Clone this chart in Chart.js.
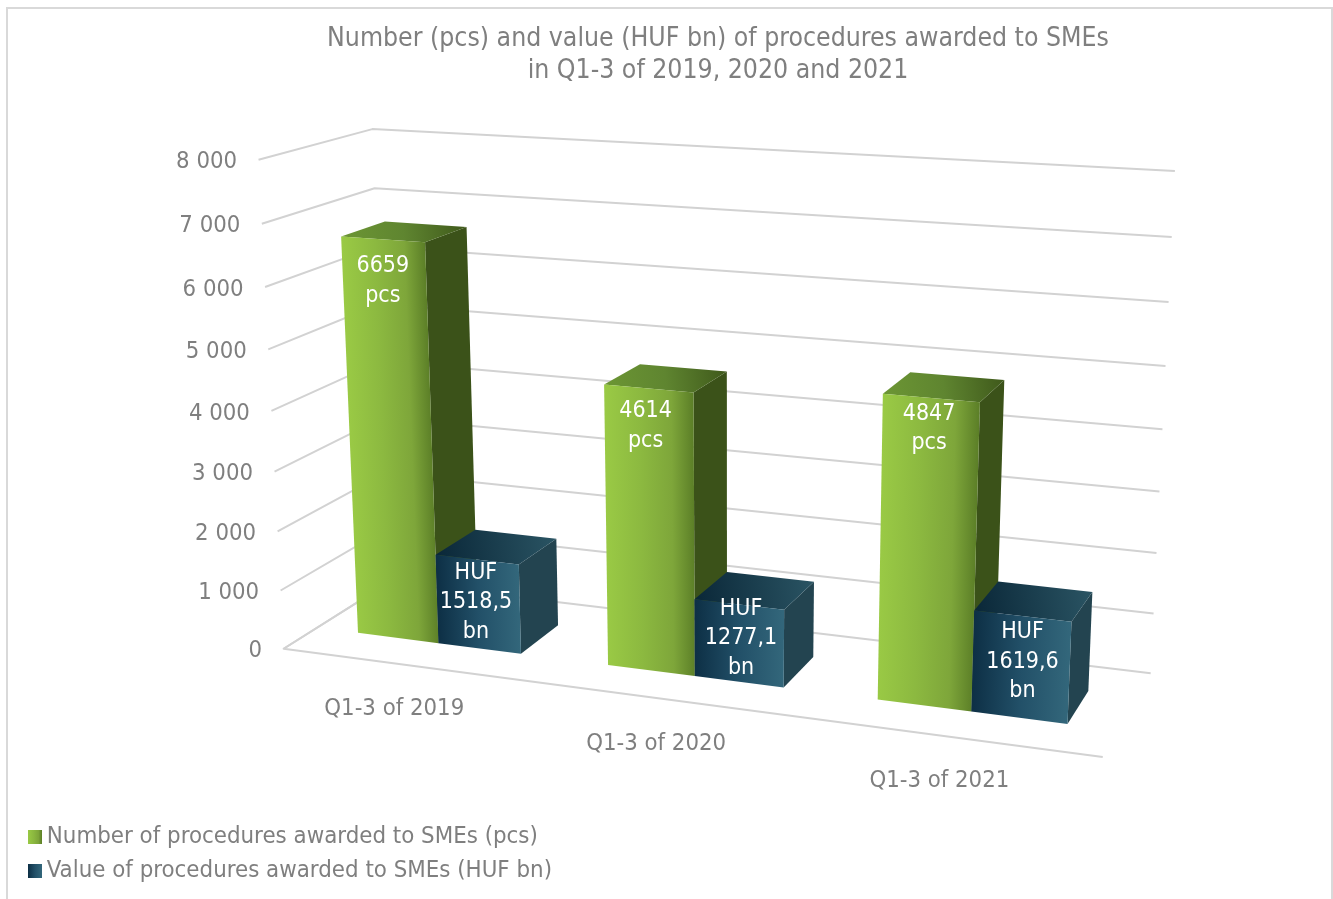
<!DOCTYPE html>
<html><head><meta charset="utf-8"><style>html,body{margin:0;padding:0;background:#fff}canvas{display:block}</style>
<script src="https://cdn.jsdelivr.net/npm/chart.js@4"></script></head><body>
<canvas id="c" width="1333" height="899"></canvas>
<script>
// ---- data ----
const categories = ['Q1-3 of 2019', 'Q1-3 of 2020', 'Q1-3 of 2021'];
const procedureCounts = [6659, 4614, 4847];
const procedureValues = [1518.5, 1277.1, 1619.6];
const seriesNames = ['Number of procedures awarded to SMEs (pcs)', 'Value of procedures awarded to SMEs (HUF bn)'];
const titleLines = ['Number (pcs) and value (HUF bn) of procedures awarded to SMEs', 'in Q1-3 of 2019, 2020 and 2021'];

// ---- styling / camera ----
const FONT = "'DejaVu Sans Condensed','DejaVu Sans',sans-serif";
const GREY = '#7f7f7f', GRID = '#d2d2d2';
const CAMERA = [696.7773,-38.77115,138.8400,283.6068, 24.32473,-497.5526,-18.17562,648.7689, -0.1109631,-0.05302294,0.08360879];
const DEPTH_FRONT = 0.3, DEPTH_BACK = 0.7;
const PALETTE = [
  {front:[[0,'#9aca45'],[.4,'#8cb940'],[.75,'#7ea63a'],[1,'#5b7e27']], top:[[0,'#6c9634'],[.5,'#5f8530'],[1,'#3f591b']], side:'#3b5219'},
  {front:[[0,'#0d2f45'],[.5,'#225068'],[1,'#33677b']], top:[[0,'#0a2738'],[1,'#2a5463']], side:'#234450'}
];
const LABEL_DX = [[0,-3,-2],[-1,2,0]];
const LABEL_DY = [[27,23,16],[13,4,16]];
const LINE_STEP = 29.5;

const P = (u,v,d) => { const c=CAMERA, q=c[8]*u+c[9]*v+c[10]*d+1;
  return {x:(c[0]*u+c[1]*v+c[2]*d+c[3])/q, y:(c[4]*u+c[5]*v+c[6]*d+c[7])/q}; };

function swatch(stops){ const s=document.createElement('canvas'); s.width=14; s.height=14; const x=s.getContext('2d');
  const g=x.createLinearGradient(0,0,14,0); stops.forEach(t=>g.addColorStop(t[0],t[1])); x.fillStyle=g; x.fillRect(0,0,14,14); return s; }
const swatches = PALETTE.map(p=>swatch(p.front));

function poly(ctx, pts, fill){ ctx.beginPath(); pts.forEach((p,i)=>i?ctx.lineTo(p.x,p.y):ctx.moveTo(p.x,p.y)); ctx.closePath(); ctx.fillStyle=fill; ctx.fill(); }
function grad(ctx,a,b,stops){ const g=ctx.createLinearGradient(a.x,a.y,b.x,b.y); stops.forEach(t=>g.addColorStop(t[0],t[1])); return g; }
function line(ctx, pts){ ctx.beginPath(); pts.forEach((p,i)=>i?ctx.lineTo(p.x,p.y):ctx.moveTo(p.x,p.y)); ctx.stroke(); }
// gradient whose colour bands run parallel to the slanted vertical edges of a face
function faceGrad(ctx,tl,tr,bl,br,stops){
  let ex=(tl.x-bl.x+tr.x-br.x)/2, ey=(tl.y-bl.y+tr.y-br.y)/2, n=Math.hypot(ex,ey); ex/=n; ey/=n;
  const nx=-ey, ny=ex, s=(nx*(tr.x-tl.x)+ny*(tr.y-tl.y))>0?1:-1;
  const pr=[tl,tr,bl,br].map(p=>s*(nx*p.x+ny*p.y)), lo=Math.min(...pr), hi=Math.max(...pr);
  const base=s*(nx*tl.x+ny*tl.y);
  const a={x:tl.x+s*nx*(lo-base),y:tl.y+s*ny*(lo-base)}, b={x:tl.x+s*nx*(hi-base),y:tl.y+s*ny*(hi-base)};
  return grad(ctx,a,b,stops);
}

const scene3d = {
  id:'scene3d',
  afterLayout(chart){ const t=chart.titleBlock; if(t){ t.left=103; t.right=1333; } },
  beforeDraw(chart){ const c=chart.ctx; c.save(); c.strokeStyle='#d9d9d9'; c.lineWidth=2; c.beginPath(); c.moveTo(7,899); c.lineTo(7,8); c.lineTo(1332,8); c.lineTo(1332,899); c.stroke(); c.restore(); },
  beforeDatasetsDraw(chart){
    const c=chart.ctx, y=chart.scales.y, a=chart.chartArea;
    c.save(); c.strokeStyle=GRID; c.lineWidth=2; c.lineJoin='round';
    c.font='23.7px '+FONT; c.fillStyle=GREY; c.textAlign='right'; c.textBaseline='middle';
    y.ticks.forEach(t=>{ const v=(a.bottom-y.getPixelForValue(t.value))/a.height;
      line(c,[P(0,v,0),P(0,v,1),P(1,v,1)]);
      const f=P(0,v,0); c.fillText(t.label,f.x-21.5,f.y+2.5);
    });
    line(c,[P(0,0,1),P(0,0,0),P(1,0,0)]);
    const x=chart.scales.x; c.textAlign='center';
    categories.forEach((n,i)=>{ const f=P((x.getPixelForValue(i)-a.left)/a.width,0,0); c.fillText(n,f.x-13,f.y+44); });
    c.restore();
  },
  beforeDatasetDraw(){ return false; },
  afterDatasetsDraw(chart){
    const c=chart.ctx, a=chart.chartArea; const m=[chart.getDatasetMeta(0),chart.getDatasetMeta(1)];
    c.save();
    categories.forEach((_,i)=>{ [0,1].forEach(ds=>{
      const el=m[ds].data[i], pal=PALETTE[ds];
      const u0=(el.x-el.width/2-a.left)/a.width, u1=(el.x+el.width/2-a.left)/a.width;
      const v1=(a.bottom-el.y)/a.height, v0=(a.bottom-el.base)/a.height;
      const F=DEPTH_FRONT,B=DEPTH_BACK;
      const ftl=P(u0,v1,F),ftr=P(u1,v1,F),fbl=P(u0,v0,F),fbr=P(u1,v0,F),btl=P(u0,v1,B),btr=P(u1,v1,B),bbr=P(u1,v0,B);
      poly(c,[ftr,btr,bbr,fbr],pal.side);
      poly(c,[ftl,btl,btr,ftr],grad(c,ftl,btr,pal.top));
      poly(c,[ftl,ftr,fbr,fbl],faceGrad(c,ftl,ftr,fbl,fbr,pal.front));
    });});
    categories.forEach((_,i)=>{ [0,1].forEach(ds=>{
      const el=m[ds].data[i];
      const u=(el.x-a.left)/a.width, v=(a.bottom-el.y)/a.height, t=P(u,v,DEPTH_FRONT);
      const val=chart.data.datasets[ds].data[i];
      const lines= ds===0 ? [String(val),'pcs'] : ['HUF',val.toFixed(1).replace('.',','),'bn'];
      c.font='23px '+FONT; c.fillStyle='#ffffff'; c.textAlign='center'; c.textBaseline='middle';
      lines.forEach((s,k)=>c.fillText(s,t.x+LABEL_DX[ds][i],t.y+LABEL_DY[ds][i]+k*LINE_STEP));
    });});
    c.restore();
  }
};

new Chart(document.getElementById('c'),{
  type:'bar',
  data:{labels:categories,datasets:[
    {label:seriesNames[0],data:procedureCounts,backgroundColor:'#8ebb41',categoryPercentage:.66,barPercentage:1},
    {label:seriesNames[1],data:procedureValues,backgroundColor:'#225068',categoryPercentage:.66,barPercentage:1}
  ]},
  options:{
    responsive:false,animation:false,
    layout:{padding:{left:24.7,top:0,right:0,bottom:6}},
    scales:{
      x:{display:false},
      y:{display:false,min:0,max:8000,ticks:{stepSize:1000,callback:v=>String(v).replace(/\B(?=(\d{3})+$)/g,' ')}}
    },
    plugins:{
      tooltip:{enabled:false},
      title:{display:true,text:titleLines,color:GREY,font:{family:FONT,size:26.4,weight:'normal',lineHeight:32/26.4},padding:{top:23,bottom:0}},
      legend:{position:'left',align:'end',labels:{color:GREY,font:{family:FONT,size:23.8},padding:10.2,usePointStyle:true,pointStyleWidth:.01,
        generateLabels(ch){ return Chart.defaults.plugins.legend.labels.generateLabels(ch).map((l,i)=>({...l,pointStyle:swatches[i]})); }}}
    }
  },
  plugins:[scene3d]
});
</script></body></html>
